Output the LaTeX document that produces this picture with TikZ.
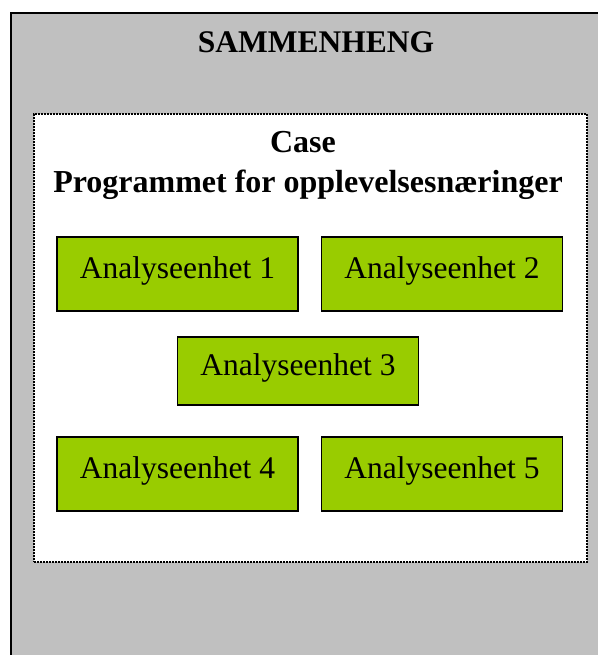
\documentclass[tikz,border=0pt]{standalone}
\usepackage{fontspec}
\setmainfont{Liberation Serif}
\definecolor{boxgreen}{HTML}{99CC00}
\definecolor{bggray}{HTML}{C0C0C0}
\begin{document}
\begin{tikzpicture}[x=1pt,y=-1pt,
  bigfont/.style={font=\fontsize{31.5}{38}\selectfont},
  unitbox/.style={draw=black, line width=1.6pt, fill=boxgreen, inner sep=0pt,
    minimum width=241pt, minimum height=74pt, text height=16pt, text depth=8pt, bigfont},
  outerbox/.style={draw=black, line width=2pt, fill=bggray, inner sep=0pt, anchor=north west},
  casebox/.style={draw=black, line width=1.8pt, dash pattern=on 1.8pt off 1.2pt, fill=white, inner sep=0pt, anchor=north west},
  heading/.style={inner sep=0pt, anchor=base, font=\fontsize{31.5}{38}\selectfont\bfseries}]
\useasboundingbox (0,0) rectangle (597,655);
\node[outerbox, minimum width=640pt, minimum height=700pt] (outer) at (10,12) {};
\node[heading] (title) at (316,53) {SAMMENHENG};
\node[casebox, minimum width=553pt, minimum height=448pt] (case) at (33,113) {};
\node[heading, font=\fontsize{32}{38}\selectfont\bfseries] (casetitle) at (303,153) {Case};
\node[heading, font=\fontsize{32}{38}\selectfont\bfseries] (program) at (308,193) {Programmet for opplevelsesnæringer};
\node[unitbox] (b1) at (177.5,274) {Analyseenhet 1};
\node[unitbox] (b2) at (442,274) {Analyseenhet 2};
\node[unitbox, minimum height=68pt] (b3) at (298,371) {Analyseenhet 3};
\node[unitbox] (b4) at (177.5,474) {Analyseenhet 4};
\node[unitbox] (b5) at (442,474) {Analyseenhet 5};
\end{tikzpicture}
\end{document}
